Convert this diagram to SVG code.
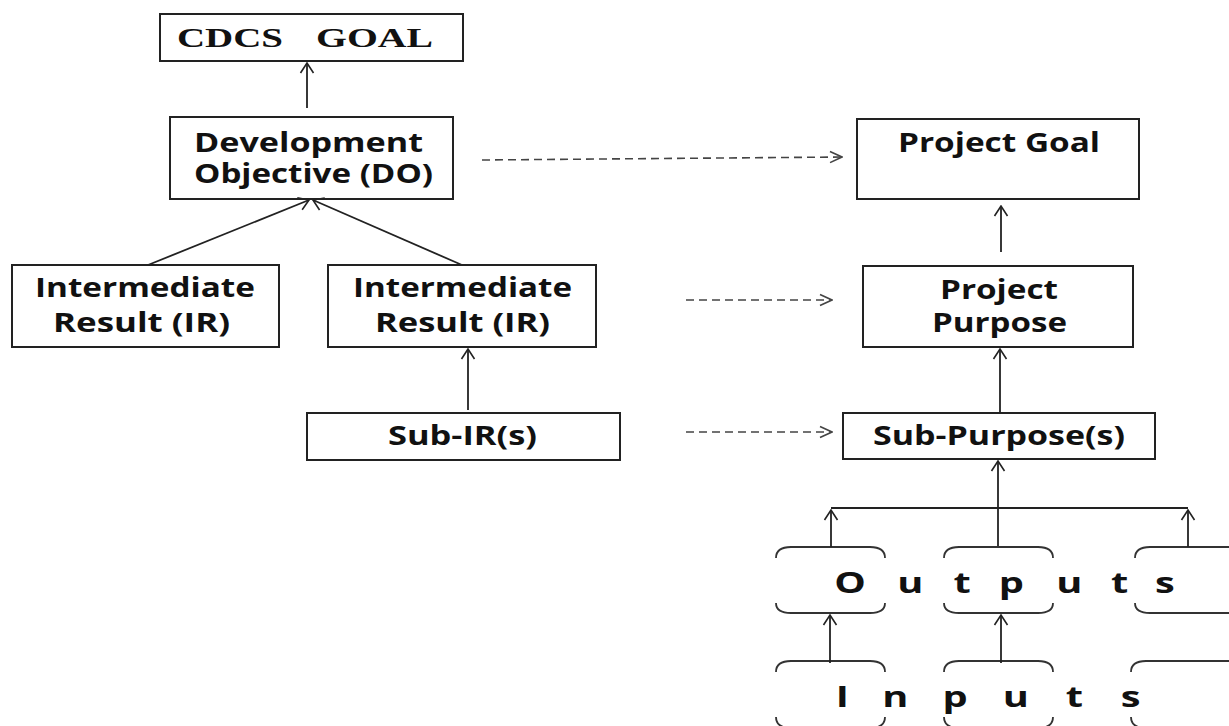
<svg xmlns="http://www.w3.org/2000/svg" width="1229" height="726" viewBox="0 0 1229 726">
<defs>
<style>
.box{fill:#fff;stroke:#222;stroke-width:2}
.t{font-family:"Open Sans","DejaVu Sans",sans-serif;font-weight:700;font-size:26px;fill:#111}
.tt{font-family:"Liberation Serif","Times New Roman",serif;font-weight:700;font-size:28px;fill:#111}
.big{font-family:"Open Sans","DejaVu Sans",sans-serif;font-weight:700;font-size:29px;fill:#111}
.ln{stroke:#222;stroke-width:1.8;fill:none}
.dash{stroke:#444;stroke-width:1.6;fill:none;stroke-dasharray:8 5}
.br{stroke:#333;stroke-width:1.8;fill:none}
</style>
<marker id="ah" viewBox="-1 -8 12 16" refX="10" refY="0" markerWidth="12" markerHeight="16" markerUnits="userSpaceOnUse" orient="auto">
<path d="M0,-6.5 L10,0 L0,6.5" fill="none" stroke="#222" stroke-width="1.6"/>
</marker>
<marker id="ahd" viewBox="-1 -8 14 16" refX="12" refY="0" markerWidth="14" markerHeight="16" markerUnits="userSpaceOnUse" orient="auto">
<path d="M0,-5.5 L12,0 L0,5.5" fill="none" stroke="#444" stroke-width="1.6"/>
</marker>
</defs>
<rect width="1229" height="726" fill="#fff"/>

<g id="cdcs-goal">
<rect class="box" x="160" y="14" width="303" height="47"/>
<text class="tt" y="47"><tspan x="177" textLength="106" lengthAdjust="spacingAndGlyphs">CDCS</tspan> <tspan x="316" textLength="117" lengthAdjust="spacingAndGlyphs">GOAL</tspan></text>
</g>

<g id="development-objective">
<rect class="box" x="170" y="117" width="283" height="82"/>
<text class="t" x="194" y="152" textLength="229" lengthAdjust="spacingAndGlyphs">Development</text>
<text class="t" x="194" y="183" textLength="239" lengthAdjust="spacingAndGlyphs">Objective (DO)</text>
</g>

<g id="project-goal">
<rect class="box" x="857" y="119" width="282" height="80"/>
<text class="t" x="898" y="152" textLength="202" lengthAdjust="spacingAndGlyphs">Project Goal</text>
</g>

<g id="ir-left">
<rect class="box" x="12" y="265" width="267" height="82"/>
<text class="t" x="35" y="297" textLength="220" lengthAdjust="spacingAndGlyphs">Intermediate</text>
<text class="t" x="53" y="332" textLength="177" lengthAdjust="spacingAndGlyphs">Result (IR)</text>
</g>

<g id="ir-right">
<rect class="box" x="328" y="265" width="268" height="82"/>
<text class="t" x="353" y="297" textLength="219" lengthAdjust="spacingAndGlyphs">Intermediate</text>
<text class="t" x="375" y="332" textLength="175" lengthAdjust="spacingAndGlyphs">Result (IR)</text>
</g>

<g id="project-purpose">
<rect class="box" x="863" y="266" width="270" height="81"/>
<text class="t" x="940" y="299" textLength="118" lengthAdjust="spacingAndGlyphs">Project</text>
<text class="t" x="932" y="332" textLength="135" lengthAdjust="spacingAndGlyphs">Purpose</text>
</g>

<g id="sub-ir">
<rect class="box" x="307" y="413" width="313" height="47"/>
<text class="t" x="388" y="445" textLength="149" lengthAdjust="spacingAndGlyphs">Sub-IR(s)</text>
</g>

<g id="sub-purpose">
<rect class="box" x="843" y="413" width="312" height="46"/>
<text class="t" x="873" y="445" textLength="252" lengthAdjust="spacingAndGlyphs">Sub-Purpose(s)</text>
</g>

<g id="outputs">
<path class="br" d="M776,558 Q776,547 791,547 L870,547 Q885,547 885,558"/>
<path class="br" d="M776,603 Q776,613 791,613 L870,613 Q885,613 885,603"/>
<path class="br" d="M944,558 Q944,547 959,547 L1038,547 Q1053,547 1053,558"/>
<path class="br" d="M944,603 Q944,613 959,613 L1038,613 Q1053,613 1053,603"/>
<path class="br" d="M1135,558 Q1135,547 1150,547 L1232,547"/>
<path class="br" d="M1135,603 Q1135,613 1150,613 L1232,613"/>
<text class="big" transform="scale(1.37 1)" y="593" x="609 655 696 729 771 811 843">Outputs</text>
</g>

<g id="inputs">
<path class="br" d="M776,672 Q776,661 791,661 L870,661 Q885,661 885,672"/>
<path class="br" d="M776,717 Q776,728 791,728 L870,728 Q885,728 885,717"/>
<path class="br" d="M944,672 Q944,661 959,661 L1038,661 Q1053,661 1053,672"/>
<path class="br" d="M944,717 Q944,728 959,728 L1038,728 Q1053,728 1053,717"/>
<path class="br" d="M1131,672 Q1131,661 1146,661 L1232,661"/>
<path class="br" d="M1131,717 Q1131,728 1146,728 L1232,728"/>
<text class="big" transform="scale(1.37 1)" y="707" x="610 644 688 732 778 818">Inputs</text>
</g>

<g id="connectors">
<line class="ln" x1="307" y1="108" x2="307" y2="63" marker-end="url(#ah)"/>
<line class="ln" x1="148" y1="265" x2="309" y2="200" marker-end="url(#ah)"/>
<line class="ln" x1="462" y1="265" x2="313" y2="200" marker-end="url(#ah)"/>
<line class="ln" x1="468" y1="410" x2="468" y2="349" marker-end="url(#ah)"/>
<line class="ln" x1="1001" y1="252" x2="1001" y2="206" marker-end="url(#ah)"/>
<line class="ln" x1="1000" y1="413" x2="1000" y2="349" marker-end="url(#ah)"/>
<line class="ln" x1="998" y1="546" x2="998" y2="461" marker-end="url(#ah)"/>
<line class="ln" x1="831" y1="508" x2="1188" y2="508"/>
<line class="ln" x1="831" y1="547" x2="831" y2="510" marker-end="url(#ah)"/>
<line class="ln" x1="1188" y1="547" x2="1188" y2="510" marker-end="url(#ah)"/>
<line class="ln" x1="830" y1="663" x2="830" y2="615" marker-end="url(#ah)"/>
<line class="ln" x1="1001" y1="663" x2="1001" y2="615" marker-end="url(#ah)"/>
<line class="dash" x1="482" y1="160" x2="842" y2="157" marker-end="url(#ahd)"/>
<line class="dash" x1="686" y1="300" x2="832" y2="300" marker-end="url(#ahd)"/>
<line class="dash" x1="686" y1="432" x2="832" y2="432" marker-end="url(#ahd)"/>
</g>
</svg>
